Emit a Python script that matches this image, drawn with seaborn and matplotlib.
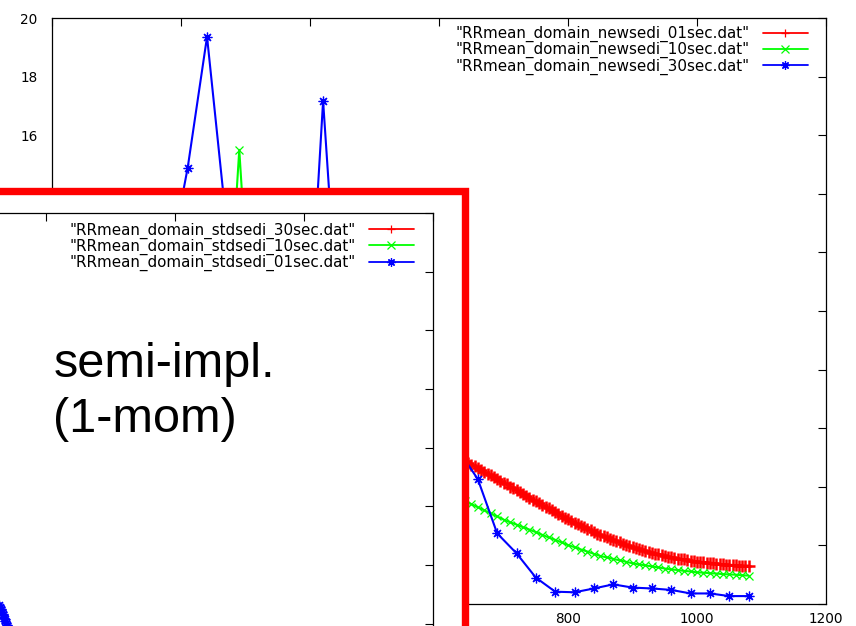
import matplotlib
matplotlib.use("Agg")
import matplotlib.pyplot as plt
from matplotlib.patches import Rectangle
import pandas as pd
import seaborn as sns

# ---------------- data : main chart (new sedimentation) ----------------
red01_x = list(range(635, 1081, 5))
red01_y = [4.95, 4.89, 4.82, 4.76,
           4.70, 4.64, 4.57, 4.51, 4.45, 4.39, 4.33, 4.26, 4.20, 4.14,
           4.08, 4.01, 3.95, 3.88, 3.82, 3.76, 3.69, 3.63, 3.56, 3.50,
           3.44, 3.38, 3.32, 3.26, 3.20, 3.13, 3.07, 3.01, 2.95, 2.89,
           2.84, 2.78, 2.73, 2.67, 2.62, 2.57, 2.51, 2.46, 2.40, 2.35,
           2.31, 2.27, 2.22, 2.18, 2.14, 2.10, 2.06, 2.01, 1.97, 1.93,
           1.90, 1.87, 1.84, 1.81, 1.78, 1.75, 1.72, 1.69, 1.66, 1.63,
           1.61, 1.59, 1.57, 1.55, 1.53, 1.52, 1.50, 1.48, 1.46, 1.44,
           1.43, 1.42, 1.41, 1.40, 1.39, 1.37, 1.36, 1.35, 1.34, 1.33,
           1.32, 1.32, 1.31, 1.31, 1.30, 1.30]

green10_x = [280, 290, 300] + list(range(640, 1081, 10))
green10_y = [12.0, 15.5, 12.0,
             3.52, 3.41, 3.30, 3.20, 3.09, 2.99, 2.88,
             2.79, 2.71, 2.62, 2.54, 2.45, 2.36, 2.27, 2.19, 2.10, 2.01,
             1.94, 1.86, 1.79, 1.71, 1.64, 1.59, 1.54, 1.49, 1.44, 1.39,
             1.35, 1.32, 1.28, 1.25, 1.21, 1.18, 1.16, 1.13, 1.11, 1.08,
             1.07, 1.05, 1.04, 1.02, 1.01, 1.00, 0.98, 0.97]

blue30_x = [180, 210, 240, 270, 390, 420, 450] + list(range(630, 1081, 30))
blue30_y = [11.4, 14.89, 19.36, 13.0, 6.0, 17.17, 7.3,
            5.25, 4.26, 2.41, 1.73, 0.90, 0.42, 0.40, 0.53, 0.67, 0.56,
            0.53, 0.48, 0.36, 0.36, 0.27, 0.27]

main_labels = ['"RRmean_domain_newsedi_01sec.dat"',
               '"RRmean_domain_newsedi_10sec.dat"',
               '"RRmean_domain_newsedi_30sec.dat"']

# ---------------- data : inset chart (standard sedimentation) ----------------
ired30_x = [600, 630, 660, 690, 720]
ired30_y = [4.6, 4.2, 3.8, 3.4, 3.0]
igreen10_x = [600, 610, 620, 630, 640]
igreen10_y = [4.0, 3.9, 3.8, 3.7, 3.6]
iblue01_x = [528, 529, 530, 531, 532, 533, 534, 535, 536, 537, 538, 539, 540, 541, 542]
iblue01_y = [6.63, 6.58, 6.50, 6.46, 6.40, 6.33, 6.28, 6.20, 6.16, 6.08,
             6.03, 5.96, 5.91, 5.84, 5.78]

inset_labels = ['"RRmean_domain_stdsedi_30sec.dat"',
                '"RRmean_domain_stdsedi_10sec.dat"',
                '"RRmean_domain_stdsedi_01sec.dat"']

x_ticks = [0, 200, 400, 600, 800, 1000, 1200]
y_ticks = [0, 2, 4, 6, 8, 10, 12, 14, 16, 18, 20]

annot_lines = ["semi-impl.", "(1-mom)"]

# ---------------- style ----------------
sns.set_style("white")
plt.rcParams["font.family"] = ["DejaVu Sans"]
plt.rcParams["text.color"] = "black"
plt.rcParams["axes.labelcolor"] = "black"
plt.rcParams["xtick.color"] = "black"
plt.rcParams["ytick.color"] = "black"

RED, GREEN, BLUE = "#ff0000", "#00ff00", "#0000ff"
ASTER = (8, 2, 0)

W, H = 856, 626
fig = plt.figure(figsize=(W / 100, H / 100), dpi=100)
fig.patch.set_facecolor("white")


def style_axes(ax, show_labels=True):
    ax.set_xlim(0, 1200)
    ax.set_ylim(0, 20)
    ax.set_xticks(x_ticks)
    ax.set_yticks(y_ticks)
    ax.set_xlabel("")
    ax.set_ylabel("")
    ax.tick_params(direction="in", length=5.5, width=0.8, top=True, right=True,
                   labelsize=9.8, colors="black", labelcolor="black")
    ax.tick_params(axis="y", pad=10.5)
    ax.tick_params(axis="x", pad=5.5)
    if not show_labels:
        ax.tick_params(labelleft=False, labelbottom=False)
    for s in ax.spines.values():
        s.set_color("black")
        s.set_linewidth(0.9)
        s.set_visible(True)
    ax.grid(False)


def draw_series(ax, xs, ys, color, marker, label, ms=6, mew=0.9, lw=1.5):
    df = pd.DataFrame({"x": xs, "y": ys})
    sns.lineplot(data=df, x="x", y="y", ax=ax, color=color, marker=marker,
                 ms=ms, mec=color, mew=mew, lw=lw, estimator=None, sort=False,
                 label=label, legend=False)


def add_legend(ax, labels, x_anchor, y_anchor):
    h = ax.get_lines()[-3:]
    leg = ax.legend(h, labels, loc="upper right",
                    bbox_to_anchor=(x_anchor, y_anchor),
                    frameon=False, markerfirst=False, fontsize=10.9,
                    handlelength=3.0, handletextpad=0.85, labelspacing=0.0,
                    borderpad=0, borderaxespad=0, numpoints=1)
    for t in leg.get_texts():
        t.set_color("black")
    for ln in leg.get_lines():
        ln.set_linewidth(1.3)
        ln.set_markersize(6)
        ln.set_markeredgewidth(0.9)


# ---- main axes ----
ax = fig.add_axes([52.3 / W, (H - 604) / H, 773.7 / W, 586 / H])
ax.set_zorder(0)
draw_series(ax, red01_x, red01_y, RED, "+", main_labels[0], ms=9, mew=1.8, lw=2.0)
draw_series(ax, green10_x, green10_y, GREEN, "x", main_labels[1])
draw_series(ax, blue30_x, blue30_y, BLUE, ASTER, main_labels[2], ms=7)
style_axes(ax)
add_legend(ax, main_labels, (808 - 52.3) / 773.7, 1 - (26 - 18) / 586)

# ---- white overlay panel with red frame ----
fig.add_artist(Rectangle((-0.03, -0.05), 465.3 / W + 0.03, (H - 191.2) / H + 0.05,
                         transform=fig.transFigure, facecolor="white",
                         edgecolor=RED, lw=5.3, joinstyle="miter", zorder=1))

# ---- inset axes (same scale, shifted) ----
ax2 = fig.add_axes([(432.7 - 773.7) / W, (H - 799.3) / H, 773.7 / W, 586 / H])
ax2.set_zorder(2)
ax2.set_facecolor("none")
draw_series(ax2, ired30_x, ired30_y, RED, "+", inset_labels[0])
draw_series(ax2, igreen10_x, igreen10_y, GREEN, "x", inset_labels[1])
draw_series(ax2, iblue01_x, iblue01_y, BLUE, ASTER, inset_labels[2], ms=7)
style_axes(ax2, show_labels=False)
add_legend(ax2, inset_labels, (414 + 341) / 773.7, 1 - (222.5 - 213.3) / 586)

# ---- annotation ----
fig.text(53.5 / W, 1 - 376.7 / H, annot_lines[0], fontsize=35, color="black",
         family=["Liberation Sans", "DejaVu Sans"], ha="left", va="baseline", zorder=3)
fig.text(53.5 / W, 1 - 432.0 / H, annot_lines[1], fontsize=35, color="black",
         family=["Liberation Sans", "DejaVu Sans"], ha="left", va="baseline", zorder=3)

fig.savefig("out.png", dpi=100)
